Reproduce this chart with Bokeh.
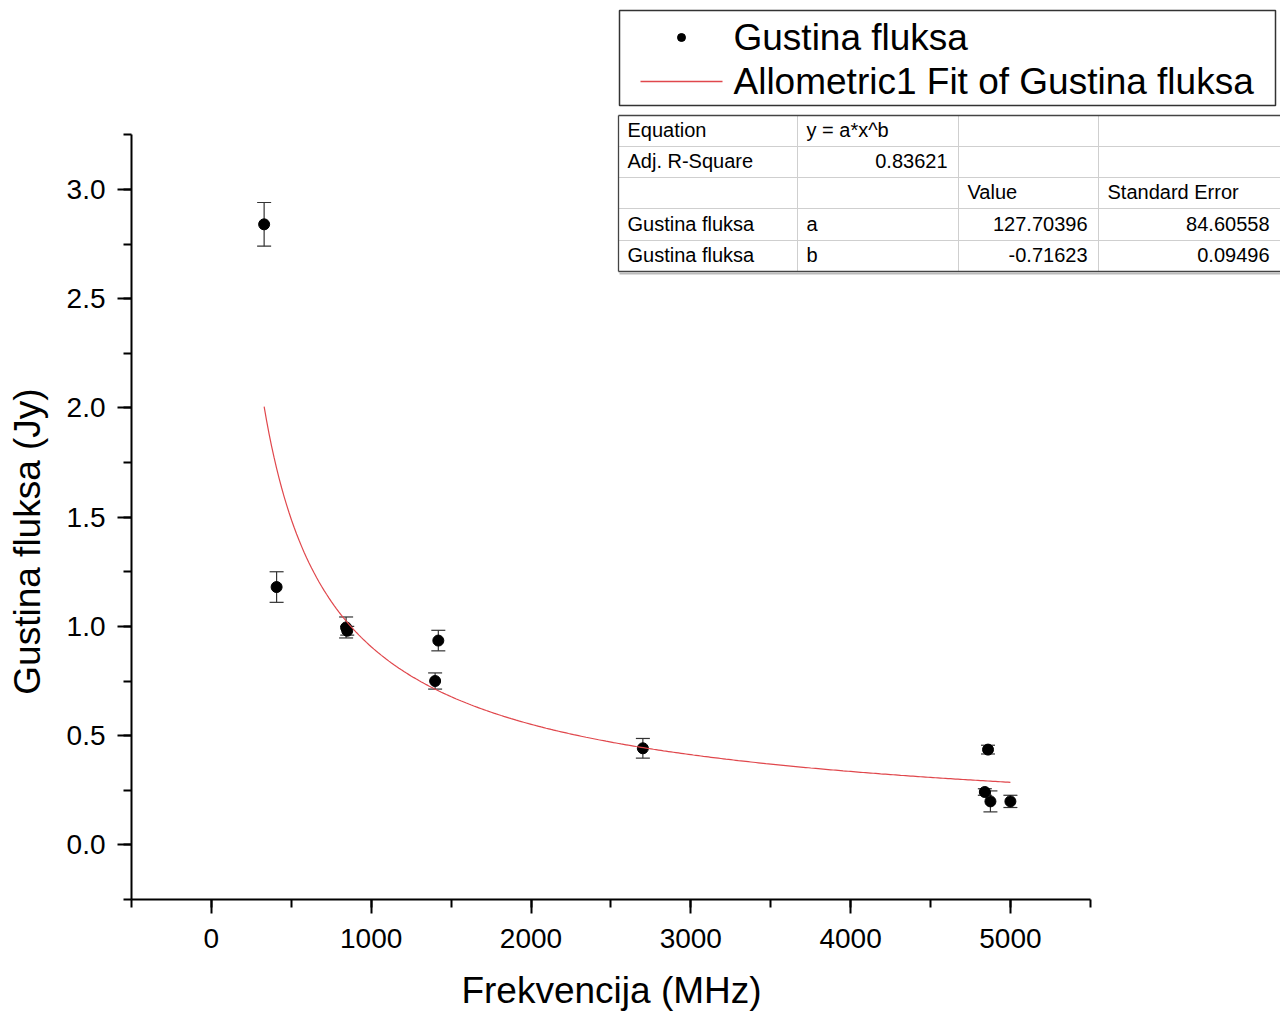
import numpy as np
from bokeh.plotting import figure
from bokeh.models import (Range1d, SingleIntervalTicker, NumeralTickFormatter,
                          Whisker, TeeHead, ColumnDataSource, LinearAxis)
from bokeh.core.properties import value
from bokeh.embed import file_html
from bokeh.resources import INLINE

# ---------------- data ----------------
freq = [330, 408, 843, 850, 1400, 1420, 2700, 4840, 4860, 4875, 5000]          # MHz
flux = [2.84, 1.18, 0.995, 0.98, 0.75, 0.935, 0.442, 0.242, 0.436, 0.199, 0.199]  # Jy
flux_err = [0.10, 0.07, 0.048, 0.02, 0.037, 0.047, 0.045, 0.015, 0.02, 0.048, 0.028]

fit_a = 127.70396
fit_b = -0.71623
fit_a_se = 84.60558
fit_b_se = 0.09496
adj_r2 = 0.83621

series_name = "Gustina fluksa"
fit_name = "Allometric1 Fit of Gustina fluksa"
x_title = "Frekvencija (MHz)"
y_title = "Gustina fluksa (Jy)"

x_axis_bounds = (-500, 5500)
y_axis_bounds = (-0.25, 3.25)

# ---------------- layout (pixel <-> data mapping) ----------------
W, H = 1280, 1013
AX_L, AX_B = 131, 899        # pixel position of the axes' origin corner
XS, YS = 0.1598, 218.5       # px per data unit

def dx(px):
    return x_axis_bounds[0] + (px - AX_L) / XS

def dy(py):
    return y_axis_bounds[0] + (AX_B - py) / YS

FONT = "Liberation Sans"

p = figure(width=W, height=H, output_backend="svg", toolbar_location=None,
           x_range=Range1d(dx(0), dx(W)), y_range=Range1d(dy(H), dy(0)),
           x_axis_location=None, y_axis_location=None, min_border=0)
p.outline_line_color = None
p.grid.visible = False
p.background_fill_color = "white"
p.border_fill_color = "white"

xaxis = LinearAxis(fixed_location=y_axis_bounds[0], bounds=x_axis_bounds,
                   ticker=SingleIntervalTicker(interval=1000, num_minor_ticks=2),
                   major_label_standoff=15)
yaxis = LinearAxis(fixed_location=x_axis_bounds[0], bounds=y_axis_bounds,
                   ticker=SingleIntervalTicker(interval=0.5, num_minor_ticks=2),
                   formatter=NumeralTickFormatter(format="0.0"),
                   major_label_standoff=12)
for ax in (xaxis, yaxis):
    ax.axis_line_width = 2
    ax.axis_line_color = "black"
    ax.major_tick_line_width = 2
    ax.minor_tick_line_width = 2
    ax.major_tick_line_color = "black"
    ax.minor_tick_line_color = "black"
    ax.major_tick_in = 0
    ax.minor_tick_in = 0
    ax.major_tick_out = 14
    ax.minor_tick_out = 8
    ax.major_label_text_font = FONT
    ax.major_label_text_font_size = "28px"
    ax.major_label_text_color = "black"
p.add_layout(xaxis, "below")
p.add_layout(yaxis, "left")

# axis titles
p.text([dx(611)], [dy(990)], text=[x_title], text_font=value(FONT),
       text_font_size=value("37px"), text_align="center", text_baseline="middle",
       text_color="black")
p.text([dx(27)], [dy(541)], text=[y_title], angle=np.pi / 2, text_font=value(FONT),
       text_font_size=value("37px"), text_align="center", text_baseline="middle",
       text_color="black")

# ---------------- data marks ----------------
src = ColumnDataSource(dict(
    x=freq, y=flux,
    upper=[f + e for f, e in zip(flux, flux_err)],
    lower=[f - e for f, e in zip(flux, flux_err)],
))
p.add_layout(Whisker(source=src, base="x", upper="upper", lower="lower",
                     line_color="#333333", line_width=1.2,
                     upper_head=TeeHead(size=14, line_color="#333333", line_width=1.2),
                     lower_head=TeeHead(size=14, line_color="#333333", line_width=1.2)))
p.scatter("x", "y", source=src, size=11, color="black")

xf = np.linspace(min(freq), max(freq), 300)
yf = fit_a * xf ** fit_b
p.line(xf, yf, line_color="#e0474c", line_width=1.2)

# ---------------- legend box ----------------
p.quad(left=[dx(619)], right=[dx(1275)], top=[dy(10)], bottom=[dy(105)],
       fill_color="white", line_color="#333333", line_width=1.5)
p.scatter([dx(681)], [dy(37)], size=8, color="black")
p.segment([dx(640)], [dy(81)], [dx(722)], [dy(81)], line_color="#e0474c", line_width=1.5)
p.text([dx(733), dx(733)], [dy(37), dy(81)], text=[series_name, fit_name],
       text_font=value(FONT), text_font_size=value("37px"),
       text_baseline="middle", text_align="left", text_color="black")

# ---------------- parameter table ----------------
cols = [618, 797, 958, 1098, 1290]
rows = [115, 146, 177, 208, 240, 271]
p.quad(left=[dx(cols[0])], right=[dx(cols[-1])], top=[dy(rows[0])], bottom=[dy(rows[-1])],
       fill_color="white", line_color=None)
hx0, hy0, hx1, hy1 = [], [], [], []
for r in rows[1:-1]:
    hx0.append(dx(cols[0])); hx1.append(dx(cols[-1])); hy0.append(dy(r)); hy1.append(dy(r))
for c in cols[1:-1]:
    hx0.append(dx(c)); hx1.append(dx(c)); hy0.append(dy(rows[0])); hy1.append(dy(rows[-1]))
p.segment(hx0, hy0, hx1, hy1, line_color="#cfcfcf", line_width=1)
p.segment([dx(cols[0]), dx(cols[0]), dx(cols[0])],
          [dy(rows[0]), dy(rows[0]), dy(rows[-1])],
          [dx(cols[-1]), dx(cols[0]), dx(cols[-1])],
          [dy(rows[0]), dy(rows[-1]), dy(rows[-1])],
          line_color="#444444", line_width=1.3)
p.segment([dx(cols[0] + 1)], [dy(rows[-1] + 2)], [dx(cols[-1])], [dy(rows[-1] + 2)],
          line_color="#bbbbbb", line_width=2)

cells = [
    ["Equation", "y = a*x^b", "", ""],
    ["Adj. R-Square", f"{adj_r2:.5f}", "", ""],
    ["", "", "Value", "Standard Error"],
    [series_name, "a", f"{fit_a:.5f}", f"{fit_a_se:.5f}"],
    [series_name, "b", f"{fit_b:.5f}", f"{fit_b_se:.5f}"],
]
right_cells = {(1, 1), (3, 2), (3, 3), (4, 2), (4, 3)}
col_right_edge = [797, 958, 1098, 1280]
lx, ly, lt, rx, ry, rt = [], [], [], [], [], []
for i, row in enumerate(cells):
    yc = dy((rows[i] + rows[i + 1]) / 2 - 1)
    for j, t in enumerate(row):
        if not t:
            continue
        if (i, j) in right_cells:
            rx.append(dx(col_right_edge[j] - 11)); ry.append(yc); rt.append(t)
        else:
            lx.append(dx(cols[j] + 9)); ly.append(yc); lt.append(t)
p.text(lx, ly, text=lt, text_font=value(FONT), text_font_size=value("20px"),
       text_baseline="middle", text_align="left", text_color="black")
p.text(rx, ry, text=rt, text_font=value(FONT), text_font_size=value("20px"),
       text_baseline="middle", text_align="right", text_color="black")

open("out.html", "w").write(file_html(p, INLINE))
